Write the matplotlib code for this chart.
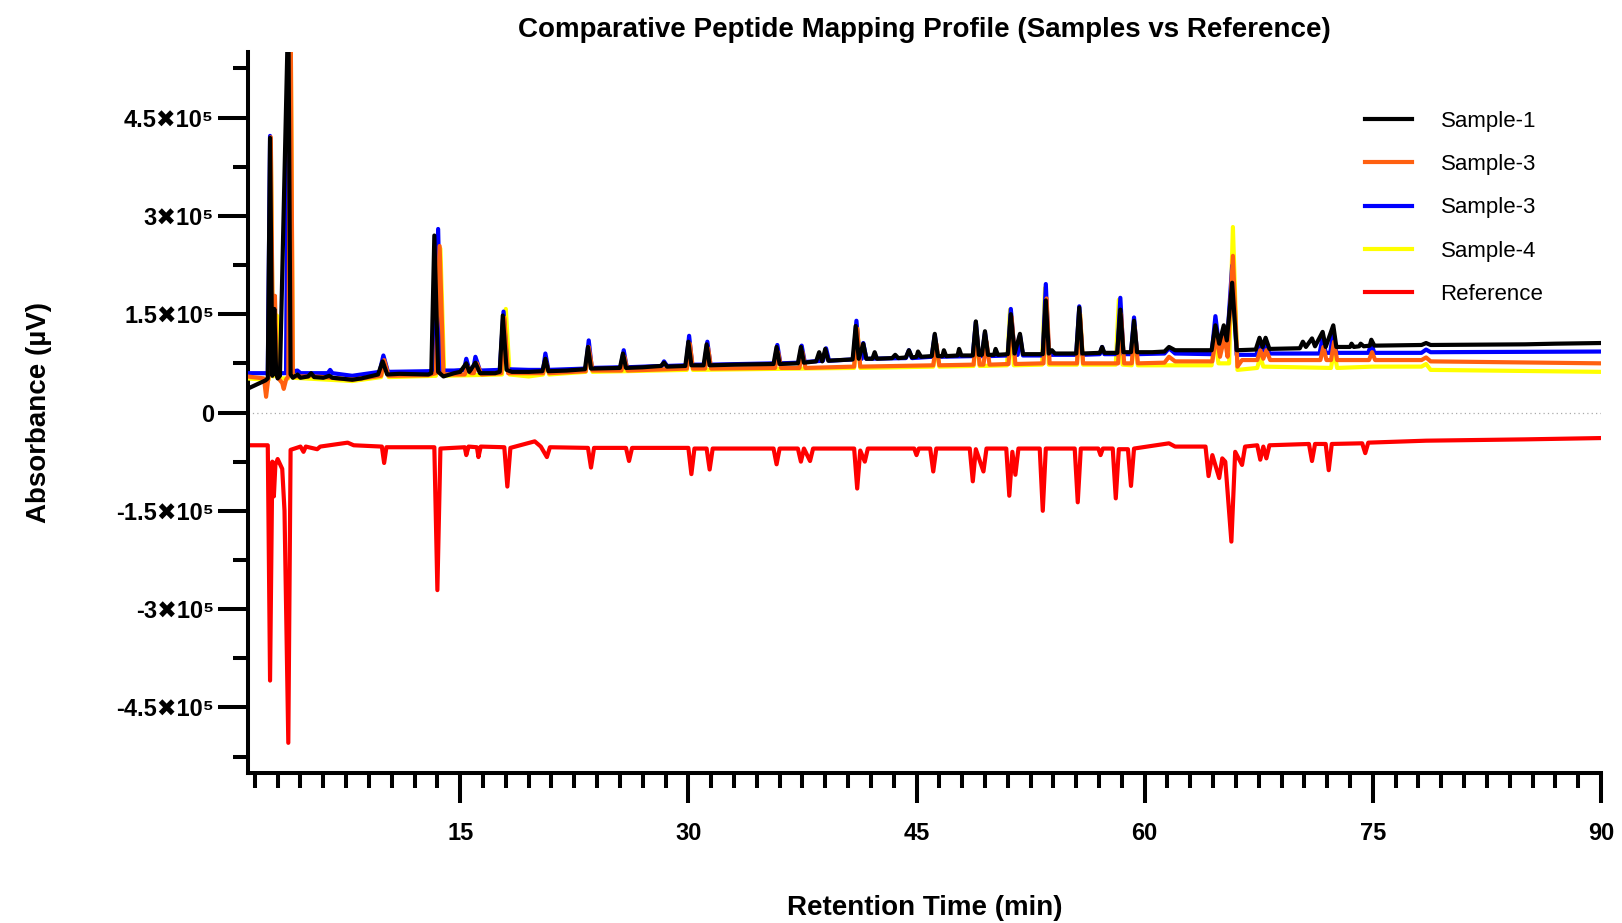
# peptide mapping overlay: four samples above zero, reference mirrored below
import matplotlib
matplotlib.use('Agg')
import matplotlib.pyplot as plt
from matplotlib import ticker
import numpy as np

plt.rcParams['font.family'] = ['Liberation Sans', 'DejaVu Sans']

# trace vertices (time in min, signal in 1e3 uV)
s1_t = [1.0, 2.2, 2.35, 2.5, 2.65, 2.78, 2.9, 3.0, 3.15, 3.7, 3.85, 4.0, 4.3, 4.5, 5.0, 5.2, 5.4,
        6.0, 6.4, 6.6, 7.9, 8.5, 9.6, 9.9, 10.2, 11.0, 12.9, 13.1, 13.3, 13.55, 13.9, 14.6, 15.0,
        15.4, 15.6, 16.0, 16.3, 17.3, 17.6, 17.8, 18.05, 18.4, 19.5, 20.4, 20.6, 20.8, 22.0, 23.2,
        23.4, 23.6, 25.5, 25.7, 25.9, 27.0, 28.2, 28.4, 28.6, 29.8, 30.0, 30.2, 31.0, 31.2, 31.4,
        33.0, 35.6, 35.8, 36.0, 37.2, 37.4, 37.6, 38.4, 38.6, 38.8, 39.0, 39.2, 40.0, 40.8, 41.0,
        41.2, 41.5, 41.7, 42.1, 42.25, 42.4, 43.4, 43.6, 43.8, 44.3, 44.5, 44.7, 45.0, 45.1, 45.3,
        46.0, 46.2, 46.4, 46.7, 46.8, 46.95, 47.7, 47.8, 47.95, 48.7, 48.9, 49.1, 49.3, 49.5, 49.7,
        50.1, 50.2, 50.35, 51.0, 51.2, 51.45, 51.8, 52.0, 53.3, 53.5, 53.7, 53.9, 54.1, 55.5, 55.7,
        55.9, 57.05, 57.2, 57.35, 58.2, 58.4, 58.6, 59.1, 59.3, 59.5, 60.5, 61.3, 61.6, 62.0, 64.4,
        64.65, 64.9, 65.2, 65.4, 65.75, 66.05, 67.3, 67.55, 67.75, 67.95, 68.2, 70.2, 70.4, 70.6,
        71.0, 71.2, 71.7, 71.9, 72.4, 72.6, 73.5, 73.6, 73.75, 74.1, 74.2, 74.4, 74.8, 74.9, 75.1,
        78.2, 78.5, 78.8, 85.0, 87.0, 90.0]
s1_y = [36, 49, 52, 419, 56, 158, 60, 52, 56, 620, 58, 53, 58, 53, 55, 60, 54,
        53, 56, 53, 50, 52, 58, 78, 58, 59, 58, 60, 270, 62, 55, 60, 62,
        75, 62, 76, 60, 60, 62, 148, 65, 62, 62, 63, 82, 63, 64, 66,
        100, 67, 68, 90, 68, 69, 71, 76, 70, 71, 108, 72, 72, 104, 72,
        73, 74, 100, 74, 75, 100, 76, 78, 92, 78, 97, 79, 80, 81, 132,
        82, 105, 82, 82, 92, 82, 83, 88, 83, 84, 95, 84, 85, 93, 85,
        86, 120, 86, 86, 95, 86, 87, 97, 87, 87, 139, 88, 88, 124, 88,
        88, 97, 88, 89, 150, 90, 120, 89, 89, 171, 90, 95, 90, 90, 160,
        90, 91, 100, 91, 91, 157, 92, 92, 140, 92, 92, 93, 100, 95, 95,
        133, 105, 133, 110, 198, 95, 96, 114, 100, 114, 97, 98, 108, 100,
        113, 101, 123, 100, 133, 100, 100, 105, 100, 101, 105, 101, 102, 111, 102,
        103, 106, 103, 104, 105, 106]

s3o_t = [1.0, 2.1, 2.24, 2.4, 2.55, 2.7, 2.82, 2.95, 3.3, 3.4, 3.55, 3.7, 3.85, 4.0, 4.5, 5.05,
         5.2, 5.35, 6.0, 7.9, 9.8, 10.0, 10.3, 12.9, 13.4, 13.65, 13.9, 15.3, 15.5, 15.7, 15.9,
         16.1, 16.4, 17.7, 17.9, 18.15, 20.45, 20.6, 20.85, 23.25, 23.45, 23.7, 25.6, 25.8, 26.0,
         29.9, 30.1, 30.3, 31.1, 31.3, 31.5, 35.7, 35.9, 36.1, 37.3, 37.5, 37.7, 40.9, 41.1, 41.3,
         46.1, 46.3, 46.5, 48.75, 48.95, 49.15, 49.4, 49.6, 49.8, 51.05, 51.25, 51.5, 53.35, 53.55,
         53.75, 55.55, 55.75, 55.95, 58.25, 58.45, 58.65, 59.15, 59.35, 59.55, 61.3, 61.6, 62.0,
         64.45, 64.7, 64.95, 65.25, 65.45, 65.8, 66.1, 66.4, 67.4, 67.6, 67.8, 68.0, 68.25, 71.55,
         71.75, 71.95, 72.25, 72.45, 72.65, 74.75, 74.95, 75.15, 78.2, 78.5, 78.8, 90.0]
s3o_y = [55, 52, 24, 55, 420, 60, 178, 55, 45, 36, 50, 55, 620, 55, 55, 55,
         58, 55, 54, 50, 56, 80, 56, 57, 60, 254, 58, 58, 70, 60, 60,
         75, 58, 60, 145, 60, 60, 80, 60, 63, 100, 64, 64, 85, 64,
         67, 105, 67, 67, 98, 67, 68, 92, 68, 68, 92, 68, 70, 128, 70,
         72, 105, 72, 73, 122, 73, 73, 108, 73, 74, 146, 74, 75, 174,
         75, 75, 150, 75, 75, 150, 75, 75, 130, 75, 76, 85, 78,
         78, 118, 85, 115, 85, 239, 70, 80, 80, 95, 82, 95, 80, 80,
         100, 80, 80, 108, 80, 80, 92, 80, 80, 84, 78, 75]

s3b_t = [1.0, 2.2, 2.35, 2.5, 2.65, 2.8, 2.95, 3.1, 3.55, 3.7, 3.85, 4.3, 4.5, 6.3, 6.45, 6.6,
         7.9, 9.7, 9.95, 10.25, 12.9, 13.35, 13.55, 13.75, 14.6, 15.25, 15.4, 15.6, 15.85, 16.0,
         16.3, 17.6, 17.85, 18.1, 19.5, 20.45, 20.6, 20.8, 23.25, 23.45, 23.65, 25.55, 25.75, 25.95,
         28.25, 28.4, 28.6, 29.85, 30.05, 30.25, 31.05, 31.25, 31.45, 35.65, 35.85, 36.05, 37.25,
         37.45, 37.65, 38.85, 39.05, 39.25, 40.85, 41.05, 41.25, 41.4, 41.5, 41.7, 44.3, 44.5, 44.7,
         46.0, 46.2, 46.4, 48.7, 48.9, 49.1, 49.3, 49.5, 49.7, 51.0, 51.2, 51.45, 51.65, 51.8, 52.0,
         53.3, 53.5, 53.7, 55.5, 55.7, 55.9, 57.05, 57.2, 57.35, 58.2, 58.4, 58.6, 59.1, 59.3, 59.5,
         61.3, 61.6, 62.0, 64.4, 64.65, 64.9, 65.2, 65.4, 65.75, 66.05, 67.35, 67.55, 67.75, 67.95,
         68.2, 71.5, 71.7, 71.9, 72.2, 72.4, 72.6, 74.7, 74.9, 75.1, 78.2, 78.5, 78.8, 90.0]
s3b_y = [60, 60, 60, 422, 62, 100, 62, 60, 60, 620, 62, 64, 60, 60, 65, 60,
         56, 62, 87, 62, 63, 64, 280, 64, 64, 65, 82, 65, 65, 85,
         64, 65, 154, 66, 65, 65, 90, 65, 67, 110, 68, 69, 95, 69,
         71, 78, 71, 72, 117, 73, 73, 108, 73, 75, 103, 75, 76,
         102, 77, 79, 98, 79, 81, 140, 82, 82, 106, 82, 83, 95, 83,
         85, 118, 85, 86, 138, 86, 86, 122, 86, 87, 158, 88, 88, 118, 87,
         87, 196, 88, 88, 162, 88, 89, 100, 89, 89, 175, 89, 89, 145, 89,
         90, 98, 90, 89, 147, 100, 128, 100, 224, 88, 88, 108, 94, 108,
         90, 90, 115, 91, 91, 125, 91, 91, 105, 91, 91, 96, 92, 93]

s4_t = [1.0, 2.2, 2.4, 2.55, 2.7, 2.95, 3.1, 3.7, 3.85, 4.0, 7.9, 9.8, 10.0, 10.3, 13.4, 13.7,
        13.95, 17.75, 18.0, 18.25, 19.5, 20.45, 20.6, 20.85, 23.25, 23.45, 23.7, 29.9, 30.1, 30.3,
        40.9, 41.1, 41.3, 46.1, 46.3, 46.5, 48.75, 48.95, 49.15, 50.95, 51.15, 51.4, 53.25, 53.45,
        53.7, 55.55, 55.75, 55.95, 58.1, 58.3, 58.55, 59.15, 59.35, 59.55, 62.0, 64.4, 64.6, 64.85,
        65.55, 65.8, 66.1, 67.4, 67.6, 67.8, 72.25, 72.45, 72.65, 75.0, 78.2, 78.5, 78.8, 90.0]
s4_y = [52, 50, 50, 410, 55, 148, 52, 52, 620, 53, 48, 54, 78, 54, 56, 250,
        56, 58, 158, 58, 55, 58, 78, 58, 62, 98, 62, 65, 100, 65,
        68, 130, 68, 70, 100, 70, 71, 118, 71, 72, 157, 72, 73, 190,
        73, 73, 150, 73, 73, 172, 73, 72, 120, 72, 72, 72, 120, 75,
        75, 283, 65, 68, 85, 70, 68, 95, 68, 70, 70, 74, 65, 62]

ref_t = [1.0, 2.35, 2.5, 2.65, 2.75, 2.85, 3.0, 3.3, 3.45, 3.7, 3.85, 4.5, 4.7, 4.85, 5.6, 5.8,
         7.6, 8.0, 9.85, 10.0, 10.15, 13.3, 13.5, 13.7, 15.3, 15.4, 15.55, 16.1, 16.2, 16.35, 17.9,
         18.1, 18.3, 19.9, 20.3, 20.7, 20.9, 23.4, 23.6, 23.8, 25.9, 26.1, 26.3, 30.0, 30.2, 30.4,
         31.2, 31.4, 31.6, 35.6, 35.8, 36.0, 37.2, 37.4, 37.6, 38.0, 38.2, 40.9, 41.1, 41.3, 41.6,
         41.8, 44.85, 45.0, 45.15, 45.9, 46.1, 46.3, 48.5, 48.7, 48.9, 49.4, 49.6, 50.9, 51.1, 51.3,
         51.5, 51.7, 53.1, 53.3, 53.5, 55.4, 55.6, 55.8, 56.95, 57.1, 57.25, 57.9, 58.1, 58.3, 58.9,
         59.1, 59.3, 61.6, 62.0, 64.0, 64.2, 64.45, 64.9, 65.1, 65.3, 65.7, 65.95, 66.4, 66.6, 67.4,
         67.6, 67.8, 68.0, 68.2, 70.8, 71.0, 71.2, 71.9, 72.1, 72.3, 74.3, 74.5, 74.7, 78.5, 85.0,
         90.0]
ref_y = [-50, -50, -409, -75, -128, -80, -71, -86, -150, -504, -57, -52, -60, -52, -56, -52,
         -46, -50, -52, -77, -53, -53, -271, -55, -53, -65, -52, -53, -68, -52, -53,
         -113, -54, -44, -52, -68, -53, -54, -84, -54, -54, -74, -54, -54, -94, -55,
         -55, -87, -55, -55, -79, -55, -55, -75, -55, -74, -55, -55, -116, -58, -75,
         -55, -55, -65, -55, -55, -90, -55, -55, -105, -56, -90, -55, -55, -127, -60,
         -95, -55, -55, -150, -55, -55, -137, -55, -55, -65, -55, -55, -131, -56, -56,
         -112, -55, -47, -52, -52, -97, -65, -100, -70, -75, -197, -60, -80, -52, -50,
         -72, -52, -70, -50, -48, -74, -48, -48, -88, -48, -47, -62, -46, -43, -41,
         -39]

series_names = ['Sample-1', 'Sample-3', 'Sample-3', 'Sample-4', 'Reference']
series_colors = ['#000000', '#FF6010', '#0000FF', '#FFFF00', '#FF0000']

ytick_vals = [-4.5e5, -3e5, -1.5e5, 0, 1.5e5, 3e5, 4.5e5]
ytick_labels = ['-4.5✖10⁵', '-3✖10⁵', '-1.5✖10⁵', '0', '1.5✖10⁵', '3✖10⁵', '4.5✖10⁵']
xtick_vals = [15, 30, 45, 60, 75, 90]

fig = plt.figure(figsize=(16.22, 9.23), dpi=100)
ax = fig.add_axes([248/1622, 1-773/923, (1601-248)/1622, (773-52)/923])

LineWidth = 3.0
traces = [(s1_t, s1_y), (s3o_t, s3o_y), (s3b_t, s3b_y), (s4_t, s4_y), (ref_t, ref_y)]
zorders = [6, 5, 4, 3, 2]
handles = []
for (t, y), name, col, z in zip(traces, series_names, series_colors, zorders):
    h, = ax.plot(t, np.array(y) * 1e3, color=col, lw=LineWidth, label=name, zorder=z)
    handles.append(h)

ax.axhline(0, color='#aaaaaa', lw=0.9, ls=(0, (1, 2.5)), zorder=1)

ax.set_xlim(1.05, 90)
ax.set_ylim(-5.5e5, 5.5e5)

ax.xaxis.set_major_locator(ticker.FixedLocator(xtick_vals))
ax.xaxis.set_minor_locator(ticker.MultipleLocator(1.5))
ax.yaxis.set_major_locator(ticker.FixedLocator(ytick_vals))
ax.yaxis.set_major_formatter(ticker.FixedFormatter(ytick_labels))
ax.yaxis.set_minor_locator(ticker.MultipleLocator(75000))

for s in ['top', 'right']:
    ax.spines[s].set_visible(False)
for s in ['left', 'bottom']:
    ax.spines[s].set_linewidth(2.9)

ax.tick_params(axis='both', which='major', length=21.5, width=2.9)
ax.tick_params(axis='both', which='minor', length=11, width=2.9)
ax.tick_params(axis='x', which='major', pad=14, labelsize=17)
ax.tick_params(axis='y', which='major', pad=3, labelsize=17)
for lab in ax.get_xticklabels() + ax.get_yticklabels():
    lab.set_fontweight('bold')

ax.set_title('Comparative Peptide Mapping Profile (Samples vs Reference)',
             fontsize=20, fontweight='bold', pad=11)
ax.set_xlabel('Retention Time (min)', fontsize=20, fontweight='bold', labelpad=36)
ax.set_ylabel('Absorbance (µV)', fontsize=20, fontweight='bold')
ax.yaxis.set_label_coords((52 - 248) / 1353, 0.5)

fig.legend(handles=handles, labels=series_names, loc='upper left',
           bbox_to_anchor=(1365/1622, 1-111/923), frameon=False, fontsize=16,
           handlelength=2.1, handletextpad=1.3, labelspacing=1.0, borderpad=0,
           borderaxespad=0)

fig.savefig('out.png', dpi=100)
